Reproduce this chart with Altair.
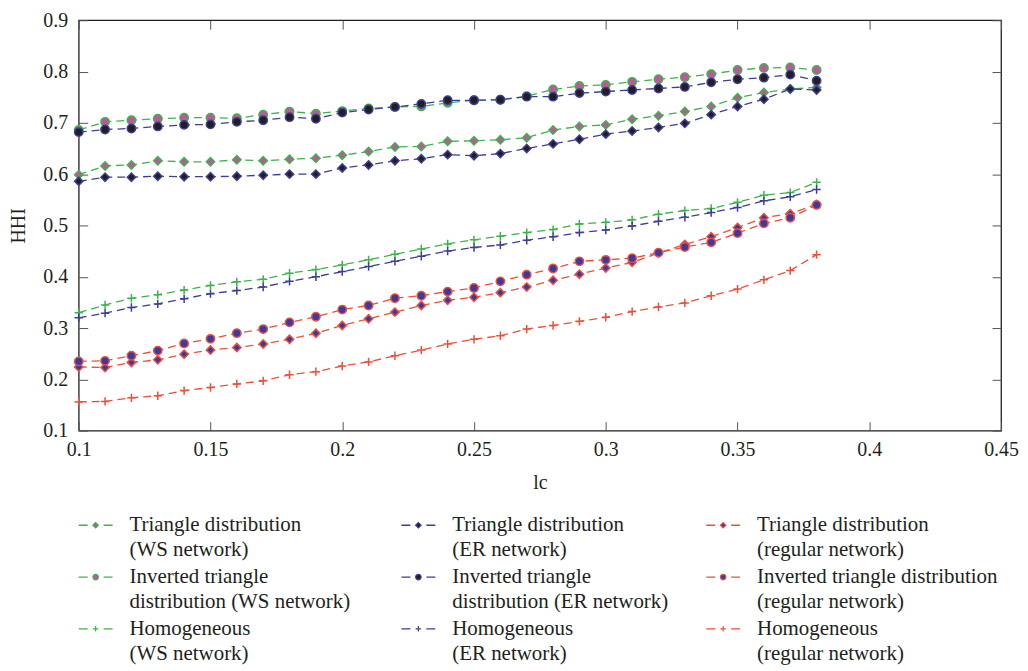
import altair as alt
import pandas as pd

lc = [0.10, 0.11, 0.12, 0.13, 0.14, 0.15, 0.16, 0.17, 0.18, 0.19,
      0.20, 0.21, 0.22, 0.23, 0.24, 0.25, 0.26, 0.27, 0.28, 0.29,
      0.30, 0.31, 0.32, 0.33, 0.34, 0.35, 0.36, 0.37, 0.38]

tri_ws = [0.599, 0.616, 0.618, 0.626, 0.624, 0.624, 0.628, 0.626, 0.629, 0.631,
          0.637, 0.644, 0.653, 0.654, 0.664, 0.665, 0.667, 0.671, 0.686, 0.693,
          0.696, 0.707, 0.714, 0.722, 0.732, 0.749, 0.759, 0.766, 0.769]
inv_ws = [0.686, 0.702, 0.705, 0.708, 0.710, 0.710, 0.709, 0.716, 0.722, 0.718,
          0.723, 0.728, 0.731, 0.732, 0.739, 0.744, 0.745, 0.752, 0.765, 0.772,
          0.774, 0.780, 0.785, 0.789, 0.795, 0.803, 0.807, 0.808, 0.803]
hom_ws = [0.330, 0.345, 0.358, 0.365, 0.374, 0.383, 0.390, 0.395, 0.407, 0.414,
          0.423, 0.433, 0.444, 0.454, 0.464, 0.472, 0.479, 0.486, 0.492, 0.503,
          0.506, 0.511, 0.522, 0.529, 0.533, 0.545, 0.559, 0.564, 0.584]
tri_er = [0.586, 0.594, 0.594, 0.596, 0.595, 0.595, 0.596, 0.598, 0.600, 0.600,
          0.612, 0.618, 0.626, 0.630, 0.638, 0.636, 0.640, 0.650, 0.659, 0.668,
          0.678, 0.684, 0.691, 0.699, 0.716, 0.732, 0.746, 0.766, 0.764]
inv_er = [0.682, 0.687, 0.689, 0.693, 0.696, 0.697, 0.702, 0.705, 0.711, 0.708,
          0.720, 0.726, 0.731, 0.737, 0.744, 0.744, 0.745, 0.751, 0.751, 0.758,
          0.761, 0.764, 0.767, 0.770, 0.779, 0.785, 0.788, 0.794, 0.782]
hom_er = [0.320, 0.329, 0.340, 0.347, 0.357, 0.367, 0.373, 0.380, 0.391, 0.400,
          0.410, 0.420, 0.430, 0.440, 0.450, 0.457, 0.462, 0.471, 0.478, 0.486,
          0.491, 0.499, 0.508, 0.516, 0.525, 0.535, 0.548, 0.556, 0.570]
tri_reg = [0.224, 0.223, 0.233, 0.238, 0.249, 0.257, 0.262, 0.269, 0.278, 0.290,
           0.305, 0.318, 0.331, 0.344, 0.354, 0.360, 0.369, 0.380, 0.393, 0.405,
           0.417, 0.428, 0.446, 0.463, 0.478, 0.496, 0.515, 0.523, 0.541]
inv_reg = [0.235, 0.236, 0.246, 0.256, 0.270, 0.279, 0.290, 0.298, 0.311, 0.322,
           0.336, 0.344, 0.358, 0.363, 0.371, 0.378, 0.391, 0.404, 0.416, 0.430,
           0.433, 0.436, 0.447, 0.458, 0.467, 0.485, 0.504, 0.515, 0.540]
hom_reg = [0.156, 0.157, 0.164, 0.168, 0.178, 0.184, 0.191, 0.197, 0.209, 0.215,
           0.226, 0.234, 0.246, 0.257, 0.269, 0.278, 0.285, 0.298, 0.305, 0.313,
           0.321, 0.332, 0.341, 0.349, 0.363, 0.376, 0.394, 0.412, 0.443]

series_ids = ["tri_ws", "inv_ws", "hom_ws", "tri_er", "inv_er", "hom_er",
              "tri_reg", "inv_reg", "hom_reg"]
series_vals = [tri_ws, inv_ws, hom_ws, tri_er, inv_er, hom_er, tri_reg, inv_reg, hom_reg]

leg_line1 = ["Triangle distribution", "Inverted triangle", "Homogeneous",
             "Triangle distribution", "Inverted triangle", "Homogeneous",
             "Triangle distribution", "Inverted triangle distribution", "Homogeneous"]
leg_line2 = ["(WS network)", "distribution (WS network)", "(WS network)",
             "(ER network)", "distribution (ER network)", "(ER network)",
             "(regular network)", "(regular network)", "(regular network)"]
leg_col = [0, 0, 0, 1, 1, 1, 2, 2, 2]
leg_row = [0, 1, 2, 0, 1, 2, 0, 1, 2]

x_ticks = [0.1, 0.15, 0.2, 0.25, 0.3, 0.35, 0.4, 0.45]
y_ticks = [0.1, 0.2, 0.3, 0.4, 0.5, 0.6, 0.7, 0.8, 0.9]

GREEN = "#3cb44b"
NAVY = "#3d3d9b"
RED = "#f04e37"
PINK = "#c0569c"
BLACK = "#231f20"
BLUE = "#3a3aa3"
PLUS = "M-1,0H1M0,-1V1"

line_colors = [GREEN, GREEN, GREEN, NAVY, NAVY, NAVY, RED, RED, RED]
fill_colors = [PINK, PINK, "transparent", BLACK, BLACK, "transparent",
               BLUE, BLUE, "transparent"]
shapes = ["diamond", "circle", PLUS] * 3

rows = []
for sid, vals in zip(series_ids, series_vals):
    for xv, yv in zip(lc, vals):
        rows.append({"lc": xv, "HHI": yv, "series": sid})
df = pd.DataFrame(rows)

leg_df = pd.DataFrame({"series": series_ids, "l1": leg_line1, "l2": leg_line2,
                       "col": leg_col, "row": leg_row})

FONT = "Liberation Serif"
TXT = "#231f20"

stroke_scale = alt.Scale(domain=series_ids, range=line_colors)
fill_scale = alt.Scale(domain=series_ids, range=fill_colors)
shape_scale = alt.Scale(domain=series_ids, range=shapes)

xscale = alt.Scale(domain=[0.1, 0.45], nice=False, zero=False)
yscale = alt.Scale(domain=[0.1, 0.9], nice=False, zero=False)

axis_common = dict(grid=False, domain=False, tickSize=9, tickColor="#555555",
                   tickWidth=1, labelFont=FONT, labelFontSize=20, labelColor=TXT,
                   titleFont=FONT, titleFontSize=20, titleColor=TXT,
                   titleFontWeight="normal", offset=-9)

x_bottom = alt.Axis(orient="bottom", values=x_ticks, format="~g", title="lc",
                    labelPadding=9, titlePadding=13, labelFlush=False, **axis_common)
y_left = alt.Axis(orient="left", values=y_ticks, format=".1f", title="HHI",
                  labelPadding=11, titlePadding=14, labelFlush=False, **axis_common)
x_top = alt.Axis(orient="top", values=x_ticks, labels=False, title=None, **axis_common)
y_right = alt.Axis(orient="right", values=y_ticks, labels=False, title=None, **axis_common)

lines = alt.Chart(df).mark_line(strokeDash=[8, 5], strokeWidth=1.3).encode(
    x=alt.X("lc:Q", scale=xscale, axis=x_bottom),
    y=alt.Y("HHI:Q", scale=yscale, axis=y_left),
    color=alt.Color("series:N", scale=stroke_scale, legend=None),
)

points = alt.Chart(df).mark_point(filled=True, size=70, strokeWidth=1.5, opacity=1).encode(
    x=alt.X("lc:Q", scale=xscale, axis=x_top),
    y=alt.Y("HHI:Q", scale=yscale, axis=y_right),
    shape=alt.Shape("series:N", scale=shape_scale, legend=None),
    fill=alt.Fill("series:N", scale=fill_scale, legend=None),
    stroke=alt.Stroke("series:N", scale=stroke_scale, legend=None),
)

main = alt.layer(lines, points).resolve_axis(x="independent", y="independent").properties(
    width=926, height=412)

lx = alt.Scale(domain=[0, 1, 2], range=[17, 341, 647])
ly = alt.Scale(domain=[0, 2], range=[24, 128])

leg_base = alt.Chart(leg_df)
leg_rule = leg_base.mark_rule(strokeDash=[9, 16, 9], strokeWidth=1.3,
                              xOffset=-17, x2Offset=17).encode(
    x=alt.X("col:Q", scale=lx, axis=None),
    x2="col:Q",
    y=alt.Y("row:Q", scale=ly, axis=None),
    color=alt.Color("series:N", scale=stroke_scale, legend=None),
)
leg_pts = leg_base.mark_point(filled=True, size=30, strokeWidth=1.2, opacity=1).encode(
    x=alt.X("col:Q", scale=lx, axis=None),
    y=alt.Y("row:Q", scale=ly, axis=None),
    shape=alt.Shape("series:N", scale=shape_scale, legend=None),
    fill=alt.Fill("series:N", scale=fill_scale, legend=None),
    stroke=alt.Stroke("series:N", scale=stroke_scale, legend=None),
)
leg_t1 = leg_base.mark_text(align="left", baseline="middle", dx=34, font=FONT,
                            fontSize=21, color=TXT).encode(
    x=alt.X("col:Q", scale=lx, axis=None),
    y=alt.Y("row:Q", scale=ly, axis=None),
    text="l1:N",
)
leg_t2 = leg_base.mark_text(align="left", baseline="middle", dx=34, dy=25, font=FONT,
                            fontSize=21, color=TXT).encode(
    x=alt.X("col:Q", scale=lx, axis=None),
    y=alt.Y("row:Q", scale=ly, axis=None),
    text="l2:N",
)
legend = alt.layer(leg_rule, leg_pts, leg_t1, leg_t2).properties(
    width=926, height=140, view=alt.ViewConfig(stroke=None))

chart = alt.vconcat(main, legend, spacing=8).properties(
    padding={"left": 0, "top": 0, "right": 0, "bottom": 0}
).configure_view(stroke=BLACK, strokeWidth=1.3)

chart.save("out.html", embed_options={"renderer": "svg", "actions": False})
